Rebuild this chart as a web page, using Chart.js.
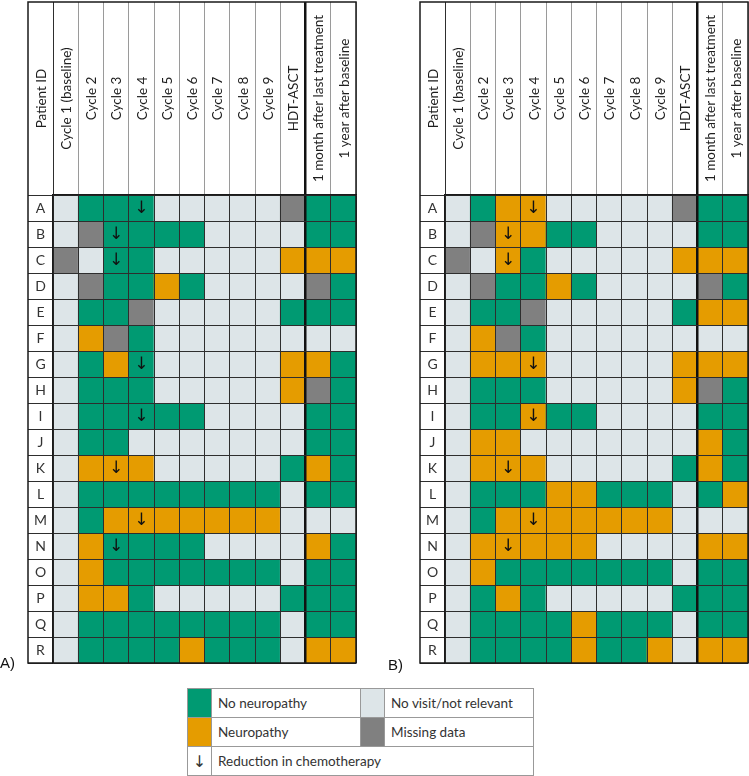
<!DOCTYPE html>
<html>
<head>
<meta charset="utf-8">
<script src="https://cdn.jsdelivr.net/npm/chart.js@4.4.1/dist/chart.umd.min.js"></script>
<style>
  body { margin: 0; background: #fff; width: 749px; height: 776px; position: relative; overflow: hidden; }
  #wrapA { position: absolute; left: 0; top: 0; }
  #wrapB { position: absolute; left: 380px; top: 0; }
  .tag { position: absolute; font: 15px "Liberation Sans", Arial, sans-serif; color: #111; }
  #legend { position: absolute; left: 187px; top: 688px; width: 347px; border-collapse: collapse; table-layout: fixed;
            font: 13.5px Lato, sans-serif; color: #333; }
  #legend td { border: 1px solid #999; height: 28px; padding: 0 0 0 6px; }
  #legend td.sw { width: 24px; padding: 0; text-align: center; }
</style>
</head>
<body>
<div id="wrapA"><canvas id="chartA" width="380" height="665"></canvas></div>
<div id="wrapB"><canvas id="chartB" width="369" height="665"></canvas></div>
<div class="tag" style="left:0px; top:654px;">A)</div>
<div class="tag" style="left:388px; top:656px;">B)</div>

<table id="legend">
  <colgroup><col style="width:24px"><col><col style="width:24px"><col></colgroup>
  <tr><td class="sw" id="swG"></td><td>No neuropathy</td><td class="sw" id="swL"></td><td>No visit/not relevant</td></tr>
  <tr><td class="sw" id="swO"></td><td>Neuropathy</td><td class="sw" id="swM"></td><td>Missing data</td></tr>
  <tr><td class="sw" style="font: 16px 'DejaVu Sans';">↓</td><td colspan="3">Reduction in chemotherapy</td></tr>
</table>

<script>
// columns of the table (after Patient ID)
var columns = ['Cycle 1 (baseline)', 'Cycle 2', 'Cycle 3', 'Cycle 4', 'Cycle 5', 'Cycle 6',
               'Cycle 7', 'Cycle 8', 'Cycle 9', 'HDT-ASCT', '1 month after last treatment', '1 year after baseline'];
var patients = ['A', 'B', 'C', 'D', 'E', 'F', 'G', 'H', 'I', 'J', 'K', 'L', 'M', 'N', 'O', 'P', 'Q', 'R'];

// G = no neuropathy, O = neuropathy, L = no visit/not relevant, M = missing data
var panelA = [
  'LGGGLLLLLMGG', 'LMGGGGLLLLGG', 'MLGGLLLLLOOO', 'LMGGOGLLLLMG', 'LGGMLLLLLGGG', 'LOMGLLLLLLLL',
  'LGOGLLLLLOOG', 'LGGGLLLLLOMG', 'LGGGGGLLLLGG', 'LGGLLLLLLLGG', 'LOOOLLLLLGOG', 'LGGGGGGGGLGG',
  'LGOOOOOOOLLL', 'LOGGGGLLLLOG', 'LOGGGGGGGLGG', 'LOOGLLLLLGGG', 'LGGGGGGGGLGG', 'LGGGGOGGGLOO'
];
var panelB = [
  'LGOOLLLLLMGG', 'LMOOGGLLLLGG', 'MLOGLLLLLOOO', 'LMGGOGLLLLMG', 'LGGMLLLLLGOO', 'LOMGLLLLLLLL',
  'LOOOLLLLLOOO', 'LGGGLLLLLOMG', 'LGGOGGLLLLGG', 'LOOLLLLLLLOG', 'LOOOLLLLLGOG', 'LGGGOOGGGLGO',
  'LGOOOOOOOLLL', 'LOOOOOLLLLOO', 'LOGGGGGGGLGG', 'LGOGLLLLLGGG', 'LGGGGOGGGLGG', 'LGGGGOGGOLOO'
];
// column index of the reduction arrow for each patient (-1 = none), same in both panels
var reduction = [3, 2, 2, -1, -1, -1, 3, -1, 3, -1, 2, -1, 3, 2, -1, -1, -1, -1];

var colours = { G: '#009A72', O: '#E59C00', L: '#DDE5E8', M: '#808080' };

document.getElementById('swG').style.background = colours.G;
document.getElementById('swO').style.background = colours.O;
document.getElementById('swL').style.background = colours.L;
document.getElementById('swM').style.background = colours.M;

// index of the grid line between HDT-ASCT and the follow-up columns
var splitAt = 10;

/* draws header labels, patient letters, arrows and the outer frame */
var tablePlugin = {
  id: 'tableText',
  afterDraw: function (chart) {
    var ctx = chart.ctx;
    var xs = chart.scales.x;
    var ys = chart.scales.y;
    var midY = (xs.top + xs.bottom) / 2;
    var idMid = (ys.left + ys.right) / 2;
    ctx.save();
    ctx.textAlign = 'center';
    ctx.textBaseline = 'middle';
    ctx.fillStyle = '#1e1e1e';
    ctx.font = '13.5px Lato';
    var heads = [['Patient ID', idMid]];
    for (var i = 0; i < columns.length; i++) {
      heads.push([columns[i], xs.getPixelForValue(i)]);
    }
    heads.forEach(function (h) {
      ctx.save();
      ctx.translate(h[1] + 1, midY);
      ctx.rotate(-Math.PI / 2);
      ctx.fillText(h[0], 0, 0);
      ctx.restore();
    });
    for (var j = 0; j < patients.length; j++) {
      ctx.font = '14px Lato';
      ctx.fillStyle = '#333';
      ctx.fillText(patients[j], idMid, ys.getPixelForValue(j + 0.5));
      if (reduction[j] >= 0) {
        ctx.font = '17px "DejaVu Sans"';
        ctx.fillStyle = '#111';
        ctx.fillText('↓', xs.getPixelForValue(reduction[j]), ys.getPixelForValue(j + 0.5) + 1);
      }
    }
    ctx.strokeStyle = '#1a1a1a';
    ctx.lineWidth = 1.5;
    ctx.strokeRect(ys.left, xs.top, chart.chartArea.right - ys.left, chart.chartArea.bottom - xs.top);
    ctx.restore();
  }
};

function makeTable(id, codes, padLeft, padRight) {
  var datasets = codes.map(function (row, r) {
    return {
      data: columns.map(function () { return [r, r + 1]; }),
      backgroundColor: row.split('').map(function (c) { return colours[c]; }),
      borderWidth: 0,
      grouped: false,
      barPercentage: 1,
      categoryPercentage: 1
    };
  });
  return new Chart(document.getElementById(id), {
    type: 'bar',
    data: { labels: columns, datasets: datasets },
    options: {
      responsive: false,
      animation: false,
      events: [],
      layout: { padding: { left: padLeft, right: padRight, top: 2, bottom: 2 } },
      plugins: { legend: { display: false }, tooltip: { enabled: false } },
      scales: {
        x: {
          position: 'top',
          ticks: { display: false },
          grid: {
            z: 1,
            offset: true,
            color: function (c) { return c.index === splitAt ? '#111' : '#2e2e2e'; },
            lineWidth: function (c) { return c.index === splitAt ? 2.5 : 1; },
            tickColor: function (c) { return c.index === splitAt ? '#111' : (c.index === 0 ? '#2e2e2e' : '#9a9a9a'); },
            tickWidth: function (c) { return c.index === splitAt ? 2.5 : 1; },
            tickLength: 193
          },
          border: { display: true, color: '#1a1a1a', width: 1.5, z: 2 },
          afterFit: function (s) { s.height = 193; }
        },
        y: {
          type: 'linear',
          reverse: true,
          min: 0,
          max: patients.length,
          ticks: { display: false, stepSize: 1, maxTicksLimit: 30 },
          grid: { z: 1, color: '#2e2e2e', tickColor: '#2e2e2e', lineWidth: 1, tickLength: 25 },
          border: { display: true, color: '#1a1a1a', width: 1.5, z: 2 },
          afterFit: function (s) { s.width = 25; }
        }
      }
    },
    plugins: [tablePlugin]
  });
}

makeTable('chartA', panelA, 28, 24);
makeTable('chartB', panelB, 40, 1);
</script>
</body>
</html>
